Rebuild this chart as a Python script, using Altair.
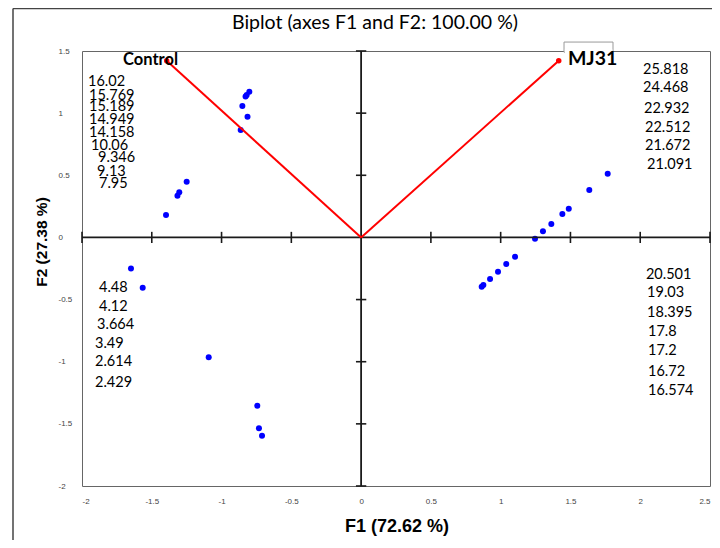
import altair as alt
import pandas as pd

# ---- observation scores (F1, F2) ----
obs_f1 = [-0.801, -0.820, -0.828, -0.851, -0.814, -0.863, -1.250, -1.303, -1.316, -1.398,
          1.767, 1.635, 1.488, 1.442, 1.363, 1.303, 1.246,
          1.103, 1.040, 0.981, 0.924, 0.876, 0.864,
          -1.649, -1.565, -1.092, -0.744, -0.732, -0.710]
obs_f2 = [1.172, 1.146, 1.134, 1.057, 0.970, 0.864, 0.448, 0.363, 0.336, 0.180,
          0.513, 0.381, 0.231, 0.188, 0.108, 0.049, -0.010,
          -0.155, -0.214, -0.276, -0.335, -0.383, -0.397,
          -0.249, -0.405, -0.965, -1.354, -1.536, -1.595]

# ---- variable vectors ----
var_names = ["Control", "MJ31"]
var_f1 = [-1.393, 1.416]
var_f2 = [1.422, 1.422]
var_lab_f1 = [-1.312, 1.482]
var_lab_f2 = [1.427, 1.435]

# ---- value annotations ----
lab_text = ["16.02", "15.769", "15.189", "14.949", "14.158", "10.06", "9.346", "9.13", "7.95",
            "25.818", "24.468", "22.932", "22.512", "21.672", "21.091",
            "20.501", "19.03", "18.395", "17.8", "17.2", "16.72", "16.574",
            "4.48", "4.12", "3.664", "3.49", "2.614", "2.429"]
lab_f1 = [-1.957, -1.950, -1.950, -1.950, -1.950, -1.935, -1.885, -1.892, -1.878,
          2.020, 2.020, 2.027, 2.034, 2.034, 2.049,
          2.041, 2.049, 2.049, 2.056, 2.056, 2.056, 2.056,
          -1.878, -1.878, -1.892, -1.907, -1.907, -1.907]
lab_f2 = [1.248, 1.140, 1.047, 0.945, 0.838, 0.738, 0.636, 0.529, 0.430,
          1.347, 1.200, 1.033, 0.883, 0.735, 0.583,
          -0.303, -0.450, -0.606, -0.759, -0.912, -1.081, -1.236,
          -0.405, -0.558, -0.705, -0.858, -1.005, -1.169]

tick_x = [-2, -1.5, -1, -0.5, 0, 0.5, 1, 1.5, 2, 2.5]
tick_y = [-2, -1.5, -1, -0.5, 0, 0.5, 1, 1.5]
cross_x = [-2, -1.5, -1, -0.5, 0.5, 1, 1.5, 2, 2.5]
cross_y = [-2, -1.5, -1, -0.5, 0.5, 1, 1.5]

title_text = "Biplot (axes F1 and F2: 100.00 %)"

df_obs = pd.DataFrame({"F1": obs_f1, "F2": obs_f2})
df_var = pd.DataFrame({"name": var_names, "F1": var_f1, "F2": var_f2,
                       "lx": var_lab_f1, "ly": var_lab_f2,
                       "o": [0.0, 0.0]})
df_lab = pd.DataFrame({"t": lab_text, "F1": lab_f1, "F2": lab_f2})
df_cx = pd.DataFrame({"v": cross_x, "a": [-0.045] * len(cross_x), "b": [0.045] * len(cross_x)})
df_cy = pd.DataFrame({"v": cross_y, "a": [-0.037] * len(cross_y), "b": [0.037] * len(cross_y)})
df_zero = pd.DataFrame({"z": [0.0]})
df_box = pd.DataFrame({"x1": [1.454], "x2": [1.805], "y1": [1.572], "y2": [1.49],
                       "cx1": [1.46], "cx2": [1.80], "cy1": [1.515], "cy2": [1.46]})
df_one = pd.DataFrame({"t": [title_text]})

xs = alt.Scale(domain=[-2, 2.5], nice=False, zero=False)
ys = alt.Scale(domain=[-2, 1.5], nice=False, zero=False)

x_axis = alt.Axis(values=tick_x, labelExpr="toString(datum.value)", grid=False, domain=False,
                  ticks=False, tickSize=0, labelPadding=11, labelFont="Liberation Sans",
                  labelFontSize=8, labelColor="#444444", title="F1 (72.62 %)",
                  titleFont="Liberation Sans", titleFontSize=18, titleFontWeight="bold",
                  titleColor="#000000", titleX=314.5, titleY=45.7, titleBaseline="alphabetic",
                  titleAlign="center")
y_axis = alt.Axis(values=tick_y, labelExpr="toString(datum.value)", grid=False, domain=False,
                  ticks=False, tickSize=0, labelPadding=24, labelAlign="left",
                  labelFont="Liberation Sans", labelFontSize=8, labelColor="#444444",
                  title="F2 (27.38 %)", titleFont="Liberation Sans", titleFontSize=15.5,
                  titleFontWeight="bold", titleColor="#000000", titleX=-40.3, titleY=190.5,
                  titleBaseline="middle", titleAlign="center", titleAngle=270)


def X(field):
    return alt.X(field, scale=xs, axis=x_axis)


def Y(field):
    return alt.Y(field, scale=ys, axis=y_axis)


points = alt.Chart(df_obs).mark_circle(size=36, color="#0000FF", opacity=1).encode(
    x=X("F1:Q"), y=Y("F2:Q"))

# outer frame (decoration)
frame_left = alt.Chart(df_one).mark_rule(color="#444444", strokeWidth=1.5).encode(
    x=alt.value(-69), y=alt.value(-42.5), y2=alt.value(497))
frame_top = alt.Chart(df_one).mark_rule(color="#444444", strokeWidth=1.5).encode(
    x=alt.value(-69), x2=alt.value(640), y=alt.value(-42.5))

zero_v = alt.Chart(df_zero).mark_rule(color="#1a1a1a", strokeWidth=1.8).encode(x=X("z:Q"))
zero_h = alt.Chart(df_zero).mark_rule(color="#1a1a1a", strokeWidth=1.8).encode(y=Y("z:Q"))

ticks_x = alt.Chart(df_cx).mark_rule(color="#1a1a1a", strokeWidth=1.6).encode(
    x=X("v:Q"), y=Y("a:Q"), y2="b:Q")
ticks_y = alt.Chart(df_cy).mark_rule(color="#1a1a1a", strokeWidth=1.6).encode(
    y=Y("v:Q"), x=X("a:Q"), x2="b:Q")

vectors = alt.Chart(df_var).mark_rule(color="#FF0000", strokeWidth=2).encode(
    x=X("o:Q"), y=Y("o:Q"), x2="F1:Q", y2="F2:Q")
vec_dots = alt.Chart(df_var).mark_circle(size=30, color="#FF0000", opacity=1).encode(
    x=X("F1:Q"), y=Y("F2:Q"))

box = alt.Chart(df_box).mark_rect(fill="#ffffff", stroke="#999999", strokeWidth=1).encode(
    x=X("x1:Q"), x2="x2:Q", y=Y("y1:Q"), y2="y2:Q")
box_cover = alt.Chart(df_box).mark_rect(fill="#ffffff").encode(
    x=X("cx1:Q"), x2="cx2:Q", y=Y("cy1:Q"), y2="cy2:Q")

lab_control = alt.Chart(df_var).transform_filter(alt.datum.name == "Control").mark_text(
    align="right", baseline="middle", font="Lato", fontSize=16.5, fontWeight="bold",
    color="#000000").encode(x=X("lx:Q"), y=Y("ly:Q"), text="name:N")
lab_mj = alt.Chart(df_var).transform_filter(alt.datum.name == "MJ31").mark_text(
    align="left", baseline="middle", font="Lato", fontSize=19.5, fontWeight="bold",
    color="#000000").encode(x=X("lx:Q"), y=Y("ly:Q"), text="name:N")

values = alt.Chart(df_lab).mark_text(align="left", baseline="middle", font="Lato",
                                     fontSize=14.5, color="#000000").encode(
    x=X("F1:Q"), y=Y("F2:Q"), text="t:N")

title = alt.Chart(df_one).mark_text(align="center", baseline="middle", font="Lato",
                                    fontSize=19.5, color="#000000").encode(
    x=alt.value(293), y=alt.value(-28.5), text="t:N")

chart = alt.layer(
    points, frame_left, frame_top, zero_v, zero_h, ticks_x, ticks_y, vectors, vec_dots,
    box, box_cover, lab_control, lab_mj, values, title
).properties(
    width=628, height=435,
    autosize=alt.AutoSizeParams(type="none"),
    padding={"left": 74, "top": 43, "right": 2, "bottom": 54},
).configure_view(stroke="#666666", strokeWidth=1)

chart.save("out.html", embed_options={"renderer": "svg", "actions": False})
